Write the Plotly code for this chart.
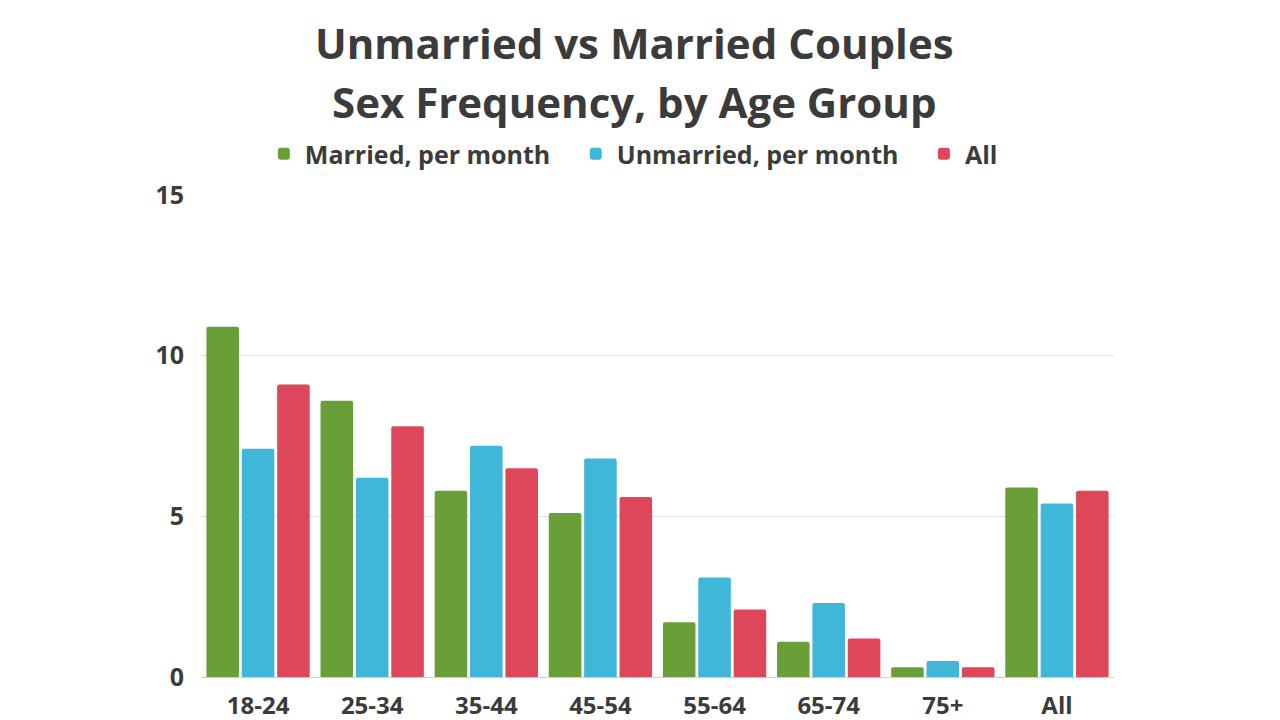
import plotly.graph_objects as go

# age groups and monthly sex frequency
groups = ["18-24", "25-34", "35-44", "45-54", "55-64", "65-74", "75+", "All"]
married = [10.9, 8.6, 5.8, 5.1, 1.7, 1.1, 0.3, 5.9]
unmarried = [7.1, 6.2, 7.2, 6.8, 3.1, 2.3, 0.5, 5.4]
all_people = [9.1, 7.8, 6.5, 5.6, 2.1, 1.2, 0.3, 5.8]

series_names = ["Married, per month", "Unmarried, per month", "All"]
series_colors = ["#68a037", "#40b7d8", "#de4759"]
y_ticks = [0, 5, 10, 15]

text_col = "#3b3b3b"
font_fam = "Open Sans"
pad = "\u00a0" * 3  # extra room between legend entries

fig = go.Figure()
for i, (name, vals, col) in enumerate(zip(series_names, [married, unmarried, all_people], series_colors)):
    label = name + pad if i < 2 else name
    fig.add_trace(go.Bar(x=groups, y=vals, name=label, marker_color=col,
                         marker_line_width=0))

# two title lines as annotations so the line spacing can be matched
fig.add_annotation(text="<b>Unmarried vs Married Couples</b>", x=0.475, y=1.316,
                   xref="paper", yref="paper", showarrow=False,
                   xanchor="center", yanchor="middle",
                   font=dict(size=42, color=text_col, family=font_fam))
fig.add_annotation(text="<b>Sex Frequency, by Age Group</b>", x=0.475, y=1.194,
                   xref="paper", yref="paper", showarrow=False,
                   xanchor="center", yanchor="middle",
                   font=dict(size=42, color=text_col, family=font_fam))

# page body adds an 8px offset, so the figure is 8px smaller each way
fig.update_layout(
    width=1272, height=712,
    paper_bgcolor="white", plot_bgcolor="white",
    margin=dict(l=193, r=166, t=187, b=43, autoexpand=False),
    barmode="group", bargap=0.07, bargroupgap=0.08, barcornerradius=2,
    font=dict(family=font_fam, color=text_col),
    legend=dict(orientation="h", x=0.473, xanchor="center",
                yref="container", y=1 - 146 / 712, yanchor="middle",
                font=dict(size=25, color=text_col, family=font_fam, weight="bold"),
                itemwidth=32, traceorder="normal"),
    xaxis=dict(showgrid=False, showline=True, linecolor="#cfcfcf", linewidth=1,
               tickfont=dict(size=24, color=text_col, weight="bold"), ticks="",
               ticklabelstandoff=7),
    yaxis=dict(range=[0, 15], tickvals=y_ticks, showgrid=True, gridcolor="#e2e2e2",
               zeroline=False, tickfont=dict(size=25, color=text_col, weight="bold"),
               ticklabelstandoff=16),
)

fig.write_html("out.html")
